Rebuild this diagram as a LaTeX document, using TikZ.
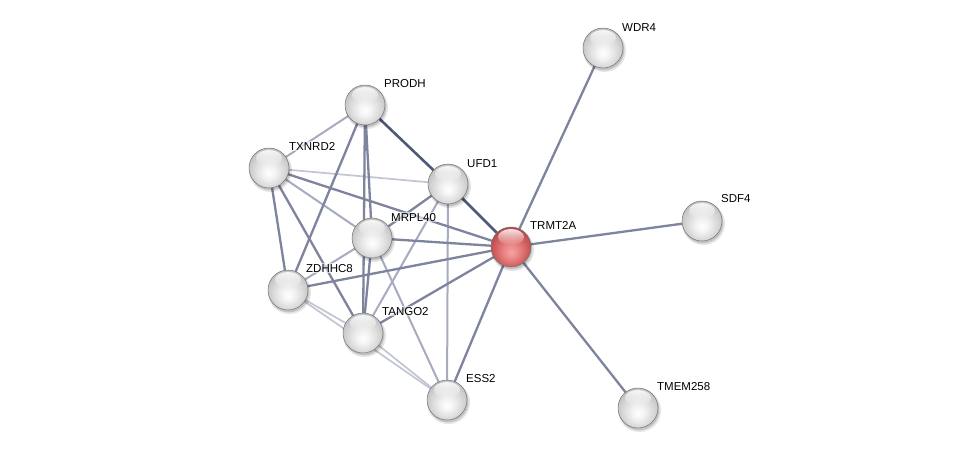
\documentclass[tikz,border=0pt]{standalone}
\usepackage{fontspec}
\setmainfont{Liberation Sans}
\usetikzlibrary{calc,fadings}
\definecolor{edark}{HTML}{4F5878}
\definecolor{emed}{HTML}{7E849D}
\definecolor{elight}{HTML}{A7ABC0}
\definecolor{elighter}{HTML}{C2C5D3}
\definecolor{rA}{HTML}{F6A2A2}
\definecolor{rB}{HTML}{EC8A8A}
\definecolor{rC}{HTML}{D66666}
\definecolor{rD}{HTML}{C24C4C}
\definecolor{rE}{HTML}{9E3232}
\pgfdeclareradialshading{glassgray}{\pgfpoint{0bp}{-7bp}}{color(0bp)=(white); color(8bp)=(gray!10); color(18bp)=(gray!28); color(26bp)=(gray!45); color(33bp)=(gray!62); color(50bp)=(gray!62)}
\pgfdeclareradialshading{glassred}{\pgfpoint{0bp}{-7bp}}{color(0bp)=(rA); color(8bp)=(rB); color(18bp)=(rC); color(26bp)=(rD); color(33bp)=(rE); color(50bp)=(rE)}
\tikzset{
  hub/.style={circle, minimum size=40pt, inner sep=0pt},
  lab/.style={anchor=base west, font=\fontsize{11.5}{13}\selectfont, inner sep=1pt, fill=white, fill opacity=0.6, text opacity=1},
  ed/.style={edark, line width=2.6pt},
  em/.style={emed, line width=2.3pt},
  el/.style={elight, line width=2pt},
  ell/.style={elighter, line width=1.7pt},
}
\newcommand{\glassball}[2]{%
  \fill[black, opacity=0.10] ($(#1)+(1.5,2.5)$) circle (21.5pt);
  \fill[black, opacity=0.15] ($(#1)+(1,2)$) circle (20.3pt);
  \shade[shading=#2] (#1) circle (20pt);
  \draw[black!55, line width=0.5pt] (#1) circle (20pt);
  \fill[white, opacity=0.85, path fading=south] ($(#1)+(0,-10)$) ellipse (13pt and 8pt);
}
\begin{document}
\begin{tikzpicture}[x=1pt, y=-1pt]
\useasboundingbox (0,0) rectangle (975,453);
\fill[white] (0,0) rectangle (975,453);
% nodes
\node[hub] (WDR4) at (603,48) {};
\node[hub] (SDF4) at (702,221) {};
\node[hub] (TRMT2A) at (511,247) {};
\node[hub] (TMEM258) at (638,408) {};
\node[hub] (PRODH) at (365,105) {};
\node[hub] (TXNRD2) at (269,168) {};
\node[hub] (UFD1) at (448,184) {};
\node[hub] (MRPL40) at (372,238) {};
\node[hub] (ZDHHC8) at (288,290) {};
\node[hub] (TANGO2) at (363,333) {};
\node[hub] (ESS2) at (447,400) {};
% edges
\draw[ell] (ZDHHC8.center) -- (ESS2.center);
\draw[ell] (ZDHHC8.center) -- (TANGO2.center);
\draw[ell] (TANGO2.center) -- (ESS2.center);
\draw[ell] (TXNRD2.center) -- (UFD1.center);
\draw[el] (PRODH.center) -- (TXNRD2.center);
\draw[el] (TXNRD2.center) -- (MRPL40.center);
\draw[el] (MRPL40.center) -- (ZDHHC8.center);
\draw[el] (UFD1.center) -- (TANGO2.center);
\draw[el] (UFD1.center) -- (ESS2.center);
\draw[el] (MRPL40.center) -- (ESS2.center);
\draw[em] (TXNRD2.center) -- (TRMT2A.center);
\draw[em] (TXNRD2.center) -- (ZDHHC8.center);
\draw[em] (TXNRD2.center) -- (TANGO2.center);
\draw[em] (PRODH.center) -- (ZDHHC8.center);
\draw[em] (PRODH.center) -- (MRPL40.center);
\draw[em] (PRODH.center) -- (TANGO2.center);
\draw[em] (MRPL40.center) -- (TANGO2.center);
\draw[em] (MRPL40.center) -- (UFD1.center);
\draw[em] (MRPL40.center) -- (TRMT2A.center);
\draw[em] (ZDHHC8.center) -- (TRMT2A.center);
\draw[em] (TANGO2.center) -- (TRMT2A.center);
\draw[em] (ESS2.center) -- (TRMT2A.center);
\draw[em] (WDR4.center) -- (TRMT2A.center);
\draw[em] (SDF4.center) -- (TRMT2A.center);
\draw[em] (TMEM258.center) -- (TRMT2A.center);
\draw[ed] (PRODH.center) -- (UFD1.center);
\draw[ed] (UFD1.center) -- (TRMT2A.center);
% balls
\glassball{WDR4}{glassgray}
\glassball{SDF4}{glassgray}
\glassball{TMEM258}{glassgray}
\glassball{PRODH}{glassgray}
\glassball{TXNRD2}{glassgray}
\glassball{UFD1}{glassgray}
\glassball{MRPL40}{glassgray}
\glassball{ZDHHC8}{glassgray}
\glassball{TANGO2}{glassgray}
\glassball{ESS2}{glassgray}
\glassball{TRMT2A}{glassred}
% labels
\node[lab] (lWDR4) at ($(WDR4)+(18,-17)$) {WDR4};
\node[lab] (lSDF4) at ($(SDF4)+(18,-19)$) {SDF4};
\node[lab] (lTRMT2A) at ($(TRMT2A)+(18,-18)$) {TRMT2A};
\node[lab] (lTMEM258) at ($(TMEM258)+(18,-18)$) {TMEM258};
\node[lab] (lPRODH) at ($(PRODH)+(18,-18)$) {PRODH};
\node[lab] (lTXNRD2) at ($(TXNRD2)+(19,-18)$) {TXNRD2};
\node[lab] (lUFD1) at ($(UFD1)+(18,-17)$) {UFD1};
\node[lab] (lMRPL40) at ($(MRPL40)+(18,-17)$) {MRPL40};
\node[lab] (lZDHHC8) at ($(ZDHHC8)+(17,-18)$) {ZDHHC8};
\node[lab] (lTANGO2) at ($(TANGO2)+(18,-18)$) {TANGO2};
\node[lab] (lESS2) at ($(ESS2)+(18,-18)$) {ESS2};
\end{tikzpicture}
\end{document}
